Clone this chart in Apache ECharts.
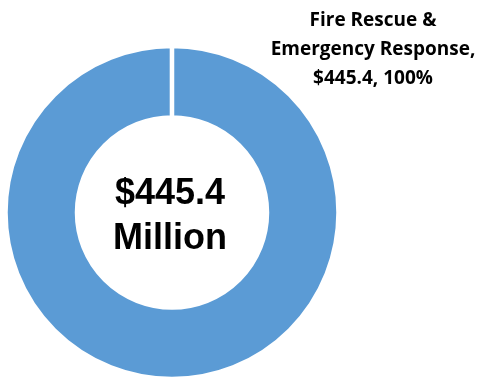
<!DOCTYPE html>
<html>
<head>
<meta charset="utf-8">
<script src="https://cdn.jsdelivr.net/npm/echarts@6/dist/echarts.min.js"></script>
<style>
  html, body { margin: 0; padding: 0; background: #fff; }
  #chart { width: 483px; height: 378px; }
</style>
</head>
<body>
<div id="chart"></div>
<script>
// Budget by program ($ millions)
const categories = ['Fire Rescue &\nEmergency Response'];
const amounts = [445.4];

const total = amounts.reduce((a, b) => a + b, 0);

const chart = echarts.init(document.getElementById('chart'), null, { renderer: 'canvas' });

chart.setOption({
  animation: false,
  title: {
    text: '$' + total.toFixed(1) + '\nMillion',
    left: 165,
    top: 167,
    textAlign: 'center',
    textStyle: {
      fontFamily: 'Liberation Sans, Arial, sans-serif',
      fontWeight: 'bold',
      fontSize: 36,
      lineHeight: 45,
      color: '#000'
    }
  },
  series: [{
    type: 'pie',
    center: [172, 212.5],
    radius: [95, 166.5],
    startAngle: 90,
    endAngle: -269.98,
    clockwise: true,
    itemStyle: {
      color: '#5B9BD5',
      borderColor: '#fff',
      borderWidth: 4.5
    },
    label: {
      show: true,
      position: 'outside',
      formatter: p => p.name + ',\n$' + p.value.toFixed(1) + ', ' + Math.round(p.percent) + '%',
      fontFamily: 'Open Sans, sans-serif',
      fontWeight: 'bold',
      fontSize: 19,
      lineHeight: 29,
      color: '#000',
      align: 'center'
    },
    labelLine: { show: false },
    labelLayout: {
      x: 373,
      y: 50,
      align: 'center',
      verticalAlign: 'middle'
    },
    emphasis: { disabled: true },
    data: categories.map((c, i) => ({ name: c, value: amounts[i] }))
  }]
});
</script>
</body>
</html>
